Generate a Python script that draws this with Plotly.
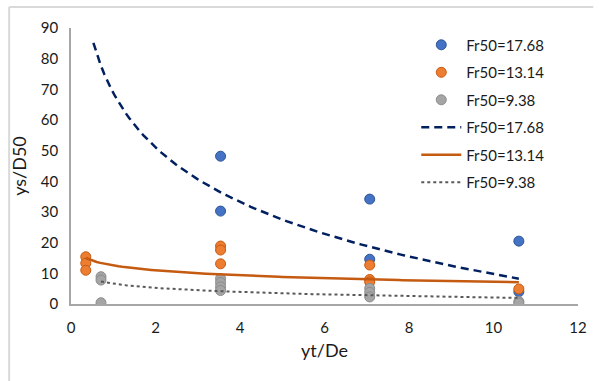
import numpy as np
import plotly.graph_objects as go

# Measured scour depth ratios ys/D50 against tailwater ratio yt/De
x_fr1768 = [3.54, 3.54, 7.07, 7.07, 10.6, 10.6]
y_fr1768 = [48.2, 30.3, 34.2, 14.6, 20.5, 4.0]

x_fr1314 = [0.35, 0.35, 0.35, 3.54, 3.54, 3.54, 7.07, 7.07, 7.07, 10.6]
y_fr1314 = [15.4, 13.3, 11.0, 18.9, 17.6, 13.1, 12.7, 8.0, 7.2, 4.9]

x_fr938 = [0.71, 0.71, 0.71, 3.54, 3.54, 3.54, 3.54, 7.07, 7.07, 7.07, 10.6, 10.6]
y_fr938 = [8.9, 7.8, 0.4, 8.3, 7.0, 5.6, 4.4, 5.1, 3.8, 2.3, 0.8, 0.3]

# Logarithmic trendlines y = a + b*ln(x): (a, b, x_start, x_end)
trend_fr1768 = (68.86, -25.67, 0.53, 10.6)
trend_fr1314 = (12.56, -2.32, 0.35, 10.6)
trend_fr938 = (6.63, -1.96, 0.71, 10.6)

series_names = ["Fr50=17.68", "Fr50=13.14", "Fr50=9.38"]
x_ticks = [0, 2, 4, 6, 8, 10, 12]
y_ticks = [0, 10, 20, 30, 40, 50, 60, 70, 80, 90]


def trend_curve(params):
    a, b, x0, x1 = params
    xs = np.linspace(x0, x1, 120)
    return xs, a + b * np.log(xs)


fig = go.Figure()

marker_styles = [
    ("#4472C4", "#2F5597"),
    ("#ED7D31", "#C55A11"),
    ("#A5A5A5", "#8C8C8C"),
]
for name, xs, ys, (fill, edge), grp in zip(
    series_names,
    [x_fr1768, x_fr1314, x_fr938],
    [y_fr1768, y_fr1314, y_fr938],
    marker_styles,
    ["m1", "m2", "m3"],
):
    fig.add_trace(go.Scatter(
        x=xs, y=ys, mode="markers", name=name, legendgroup=grp,
        marker=dict(size=10, color=fill, line=dict(color=edge, width=1)),
    ))

line_styles = [
    ("#002060", "8px,5px", 2.5),
    ("#C55A11", "solid", 2.5),
    ("#595959", "dot", 2),
]
for name, params, (color, dash, width), grp in zip(
    series_names,
    [trend_fr1768, trend_fr1314, trend_fr938],
    line_styles,
    ["t1", "t2", "t3"],
):
    tx, ty = trend_curve(params)
    fig.add_trace(go.Scatter(
        x=tx, y=ty, mode="lines", name=name, legendgroup=grp,
        line=dict(color=color, dash=dash, width=width),
    ))

fig.update_layout(
    width=599, height=381,
    margin=dict(l=71, r=12, t=28, b=77),
    paper_bgcolor="white", plot_bgcolor="white",
    font=dict(family="Lato, Carlito, Calibri, sans-serif", size=15, color="#1a1a1a"),
    showlegend=True,
    legend=dict(
        x=0.681, y=0.998, xanchor="left", yanchor="top",
        bgcolor="rgba(0,0,0,0)", font=dict(size=15),
        traceorder="grouped", tracegroupgap=5,
        itemwidth=40,
    ),
    xaxis=dict(
        range=[0, 12], tickvals=x_ticks, showgrid=False, zeroline=False,
        showline=True, linecolor="#A6A6A6", linewidth=1.5, ticks="",
        ticklabelstandoff=9,
        title=dict(text="yt/De", standoff=10), tickfont=dict(size=15),
    ),
    yaxis=dict(
        range=[0, 90], tickvals=y_ticks, showgrid=False, zeroline=False,
        showline=True, linecolor="#A6A6A6", linewidth=1.5, ticks="",
        ticklabelstandoff=8,
        title=dict(text="ys/D50", standoff=10), tickfont=dict(size=15),
    ),
    shapes=[
        dict(type="line", xref="paper", yref="paper", x0=-0.122, x1=1.03,
             y0=1.076, y1=1.076, line=dict(color="#D9D9D9", width=2)),
        dict(type="line", xref="paper", yref="paper", x0=-0.122, x1=-0.122,
             y0=1.076, y1=-0.3, line=dict(color="#D9D9D9", width=2)),
    ],
)

fig.write_html("out.html")
